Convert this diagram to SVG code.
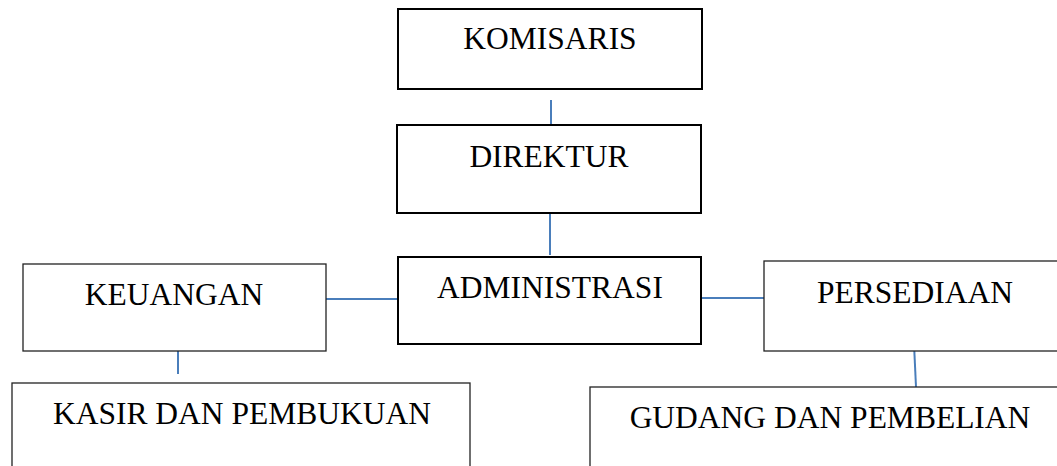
<svg xmlns="http://www.w3.org/2000/svg" width="1057" height="466" viewBox="0 0 1057 466">
<style>
.box{fill:#fff;stroke:#000;stroke-width:2}
.thin{fill:#fff;stroke:#222;stroke-width:1.3}
.lbl{font-family:"Liberation Serif","Times New Roman",serif;font-size:31.5px;fill:#000;text-anchor:middle}
.conn{stroke:#4a7ebb;stroke-width:2;fill:none}
</style>
<rect width="1057" height="466" fill="#fff"/>
<g id="connectors">
<line class="conn" x1="551" y1="100" x2="551" y2="126"/>
<line class="conn" x1="550" y1="212" x2="550" y2="255"/>
<line class="conn" x1="326" y1="299" x2="398" y2="299"/>
<line class="conn" x1="700" y1="298" x2="764" y2="298"/>
<line class="conn" x1="178" y1="343" x2="178" y2="374"/>
<line class="conn" x1="914" y1="344" x2="916" y2="387"/>
</g>
<g id="komisaris"><rect class="box" x="398" y="9" width="304" height="80"/><text class="lbl" x="550" y="49">KOMISARIS</text></g>
<g id="direktur"><rect class="box" x="397" y="125" width="304" height="88"/><text class="lbl" x="549" y="167">DIREKTUR</text></g>
<g id="administrasi"><rect class="box" x="398" y="257" width="303" height="87"/><text class="lbl" x="550" y="298">ADMINISTRASI</text></g>
<g id="keuangan"><rect class="thin" x="23" y="264" width="303" height="87"/><text class="lbl" x="174" y="305">KEUANGAN</text></g>
<g id="persediaan"><rect class="thin" x="764" y="261" width="300" height="90"/><text class="lbl" x="915" y="303">PERSEDIAAN</text></g>
<g id="kasir"><rect class="thin" x="12" y="383" width="458" height="100"/><text class="lbl" x="242" y="424">KASIR DAN PEMBUKUAN</text></g>
<g id="gudang"><rect class="thin" x="590" y="387" width="480" height="100"/><text class="lbl" x="830" y="428">GUDANG DAN PEMBELIAN</text></g>
</svg>
